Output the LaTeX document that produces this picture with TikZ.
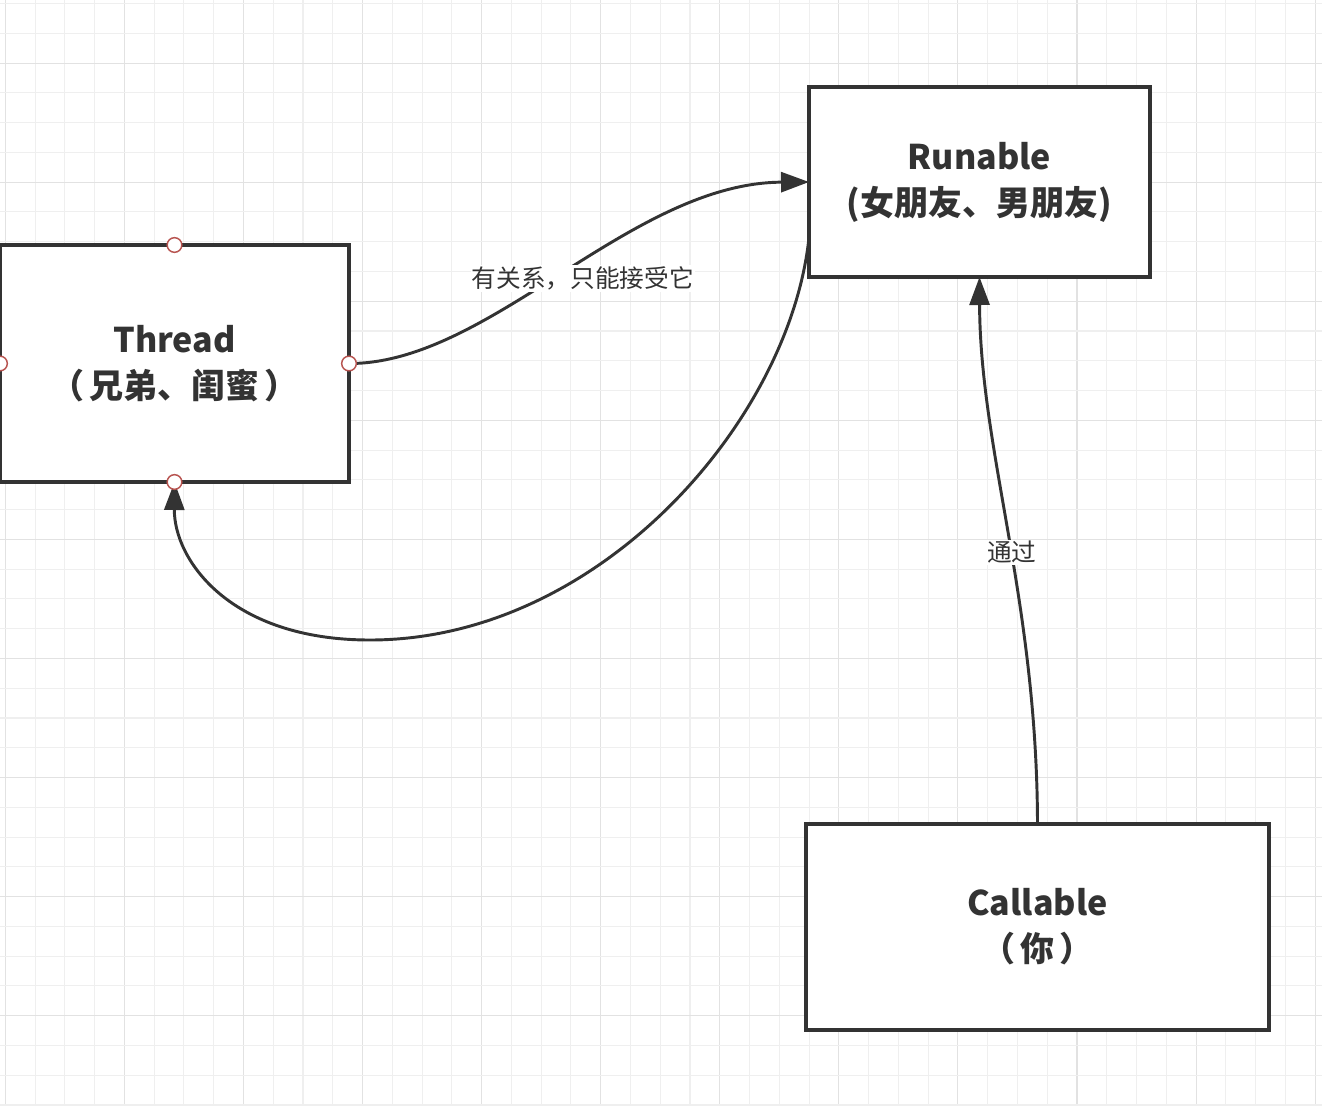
\documentclass[tikz,border=0pt]{standalone}
\usepackage{fontspec}
\newfontfamily\cjk{Noto Sans CJK SC}
\usetikzlibrary{arrows.meta}
\definecolor{ink}{HTML}{333333}
\definecolor{gridminor}{HTML}{EFEFEF}
\definecolor{gridmajor}{HTML}{E2E2E2}
\definecolor{handle}{HTML}{B85450}
\begin{document}
\begin{tikzpicture}[x=0.75pt,y=-0.75pt,
  boxnode/.style={draw=ink, line width=2.4pt, fill=white, rectangle, inner sep=0pt, outer sep=0pt,
    align=center, text=ink, font=\cjk\bfseries\fontsize{25.5pt}{34.5pt}\selectfont},
  conn/.style={draw=ink, line width=2.2pt, -{Triangle[length=21pt,width=15pt]}},
  lbl/.style={fill=white, text=ink, inner sep=1pt, font=\cjk\fontsize{18.5pt}{20pt}\selectfont},
  handlept/.style={circle, draw=handle, fill=white, line width=1.1pt, minimum size=11pt, inner sep=0pt}]
\useasboundingbox (0,0) rectangle (1322,1118);
\fill[white] (0,0) rectangle (1322,1118);
% grid
\foreach \k in {0,...,44}{
  \pgfmathsetmacro{\gx}{5.3+29.77*\k}
  \pgfmathtruncatemacro{\m}{mod(\k,4)}
  \ifnum\m=0 \draw[gridmajor, line width=0.8pt] (\gx,0) -- (\gx,1106);
  \else \draw[gridminor, line width=0.8pt] (\gx,0) -- (\gx,1106); \fi
}
\foreach \k in {0,...,37}{
  \pgfmathsetmacro{\gy}{3.5+29.77*\k}
  \pgfmathtruncatemacro{\m}{mod(\k,4)}
  \ifnum\m=2 \draw[gridmajor, line width=0.8pt] (0,\gy) -- (1322,\gy);
  \else \draw[gridminor, line width=0.8pt] (0,\gy) -- (1322,\gy); \fi
}
% boxes
\node[boxnode, minimum width=261.75pt, minimum height=177.75pt] (thread) at (174.5,363.5) {Thread\\（\hspace{4pt}兄弟、闺蜜\hspace{4pt}）};
\node[boxnode, minimum width=255.75pt, minimum height=142.5pt] (runable) at (979.5,182) {Runable\\(女朋友、男朋友)};
\node[boxnode, minimum width=347.25pt, minimum height=154.5pt] (callable) at (1037.5,927) {Callable\\（\hspace{4pt}你\hspace{4pt}）};
% connectors
\draw[conn] (thread.east) .. controls (490,364) and (630,183) .. (runable.west)
  node[lbl, pos=0.54, yshift=-12pt] {有关系，只能接受它};
\draw[conn] (runable.198.8) .. controls (790,420) and (600,640) .. (370,640)
  .. controls (230,640) and (174,560) .. (thread.south);
\draw[conn] (callable.north) .. controls (1037,600) and (980,450) .. (runable.south)
  node[lbl, pos=0.46] {通过};
% connection handles
\node[handlept] (tT) at (thread.north) {};
\node[handlept] (tR) at (thread.east) {};
\node[handlept] (tB) at (thread.south) {};
\node[handlept] (tL) at (thread.west) {};
\end{tikzpicture}
\end{document}
